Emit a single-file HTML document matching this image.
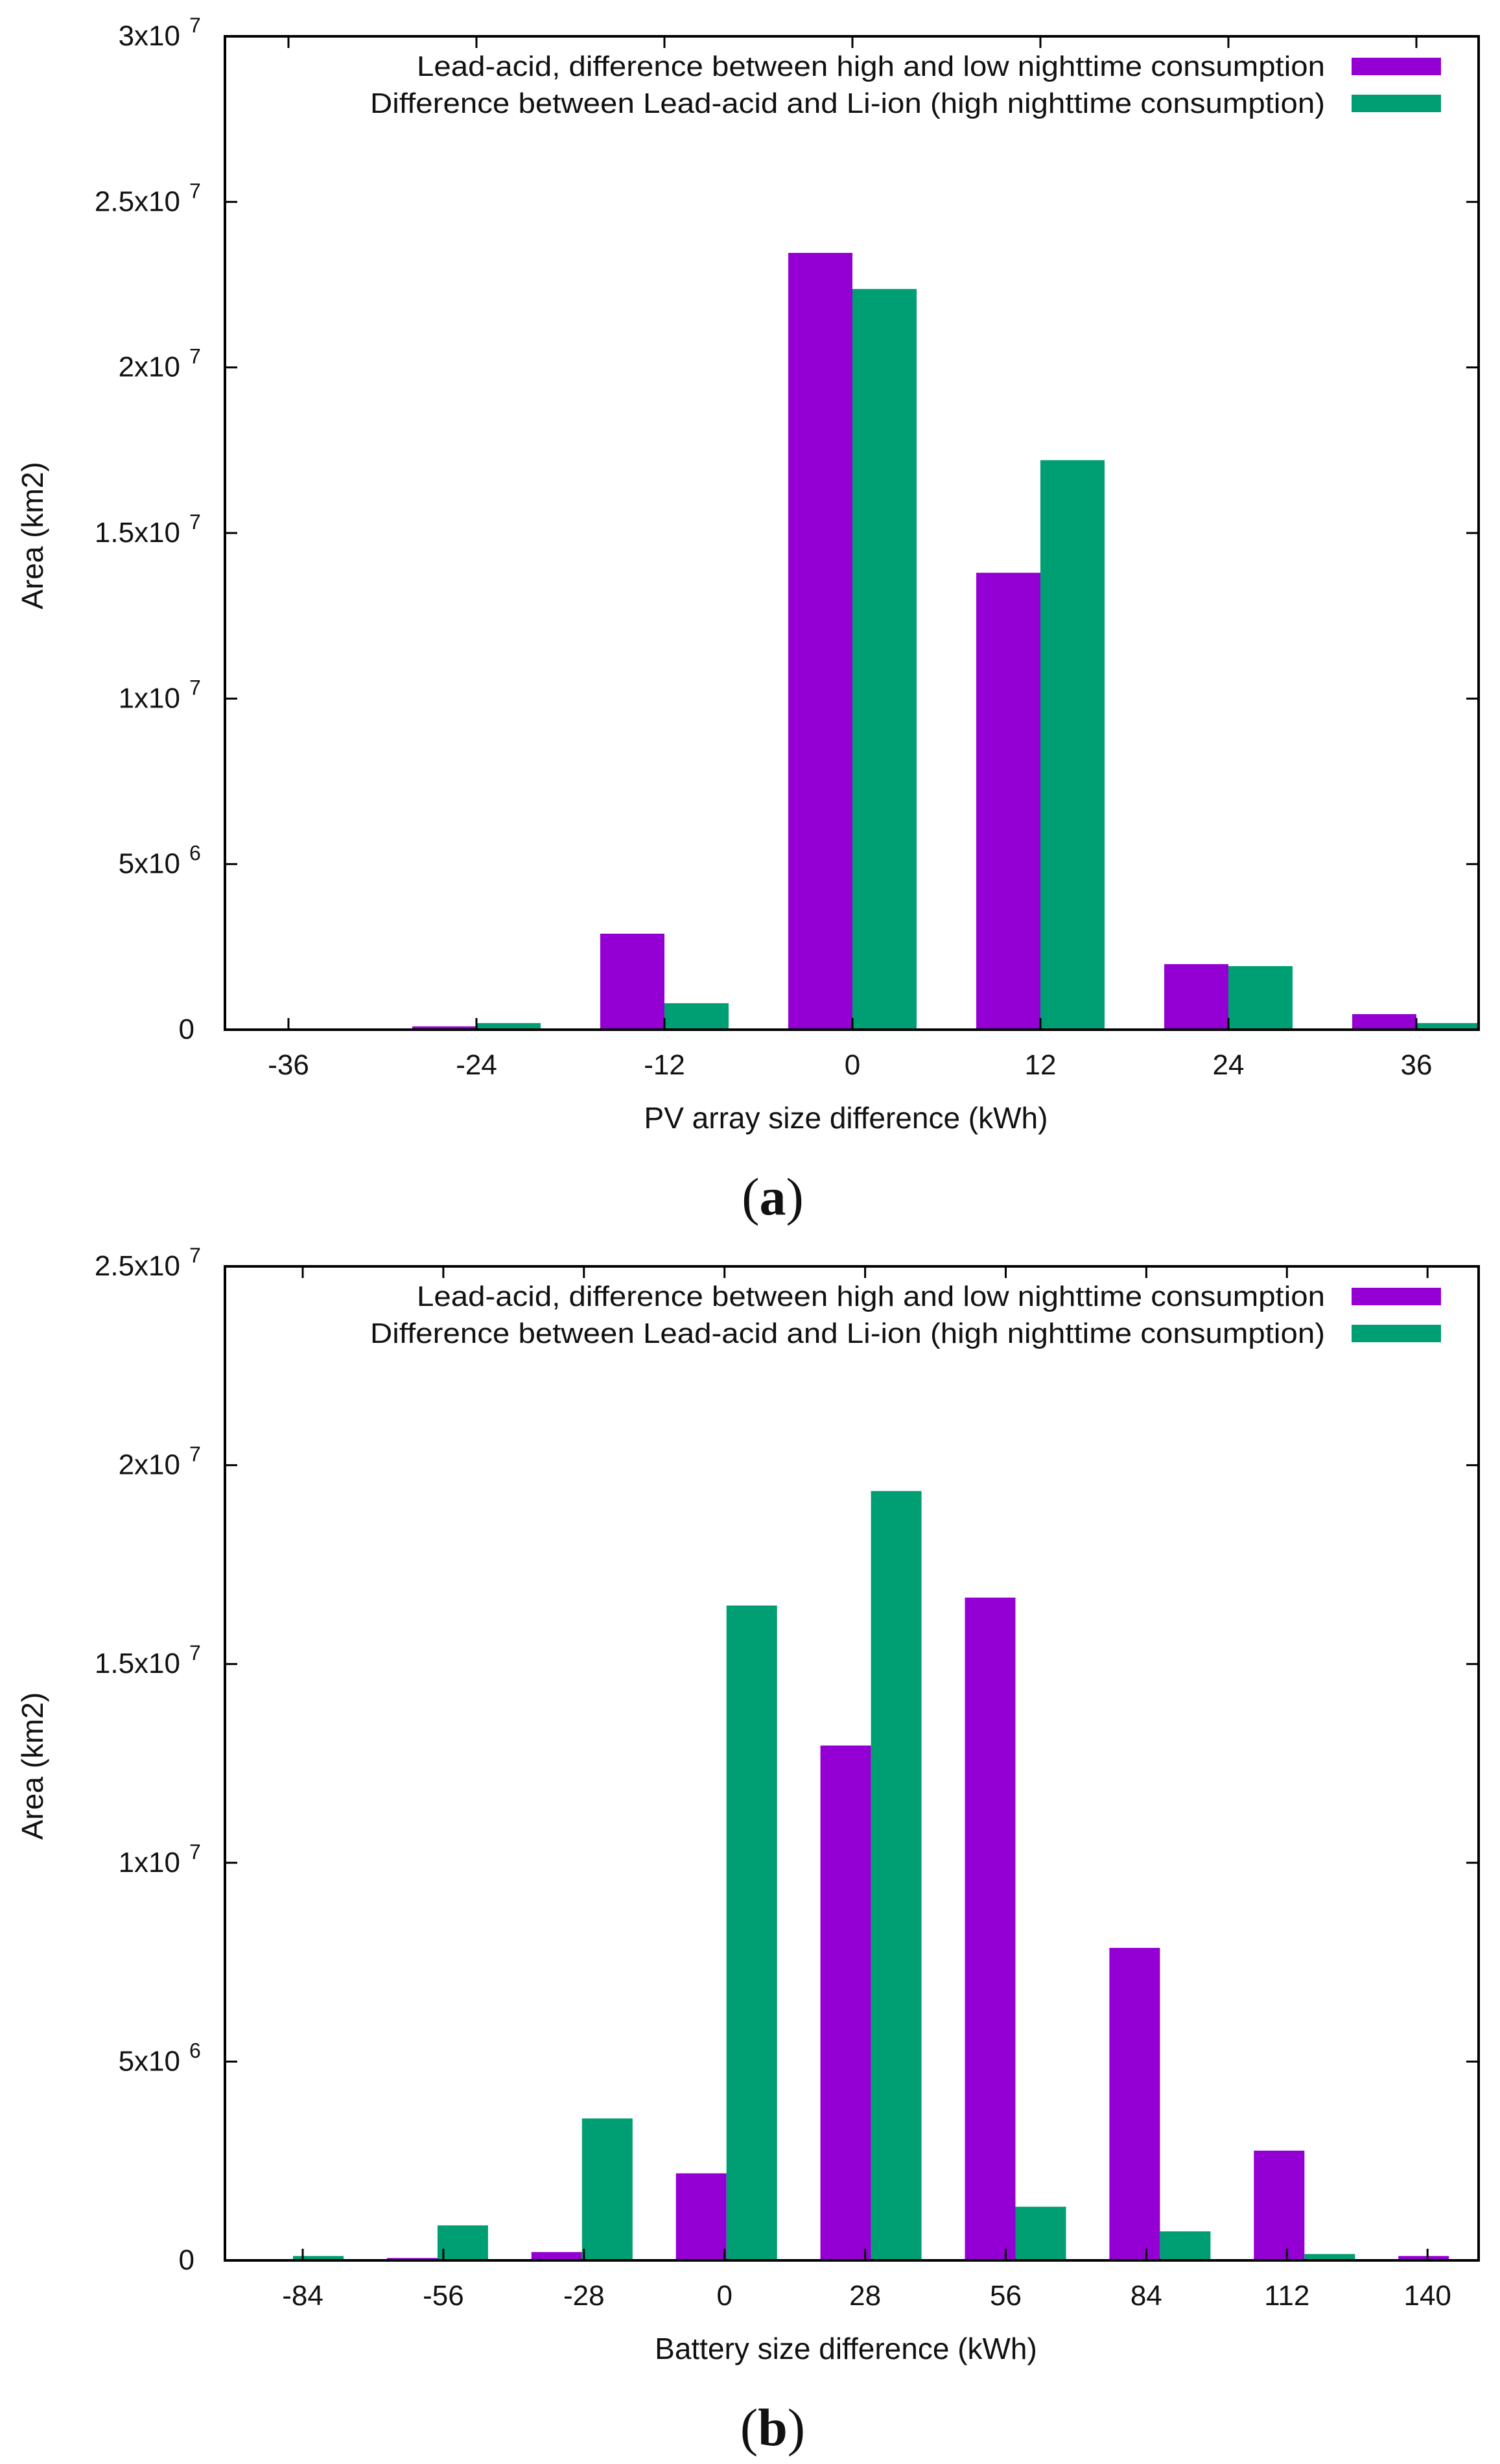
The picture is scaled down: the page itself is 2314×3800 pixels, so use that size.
<!DOCTYPE html>
<html><head><meta charset="utf-8">
<style>
html,body{margin:0;padding:0;background:#fff;}
svg{display:block;}
text{font-family:"Liberation Sans","DejaVu Sans",sans-serif;fill:#111;}
</style></head>
<body>
<svg id="fig" width="2314" height="3800" viewBox="0 0 2314 3800" xmlns="http://www.w3.org/2000/svg"></svg>
<script>
// ---- Chart (a) data ----
const catsA = ["-36","-24","-12","0","12","24","36"];
const leadA = [0, 0.1, 2.9, 23.46, 13.8, 1.98, 0.47];   // x1e6
const diffA = [0, 0.2, 0.8, 22.37, 17.2, 1.92, 0.2];    // x1e6
const yTicksA = [0, 5, 10, 15, 20, 25, 30];              // x1e6
const yTickLabelsA = [["0",""],["5x10","6"],["1x10","7"],["1.5x10","7"],["2x10","7"],["2.5x10","7"],["3x10","7"]];
// ---- Chart (b) data ----
const catsB = ["-84","-56","-28","0","28","56","84","112","140"];
const leadB = [0, 0.06, 0.21, 2.19, 12.95, 16.67, 7.86, 2.76, 0.11];
const diffB = [0.11, 0.88, 3.57, 16.47, 19.35, 1.35, 0.73, 0.16, 0];
const yTicksB = [0, 5, 10, 15, 20, 25];
const yTickLabelsB = [["0",""],["5x10","6"],["1x10","7"],["1.5x10","7"],["2x10","7"],["2.5x10","7"]];

const NS = "http://www.w3.org/2000/svg";
const svg = document.getElementById('fig');
function mk(tag, attrs, parent){ const e=document.createElementNS(NS,tag); for(const k in attrs) e.setAttribute(k,attrs[k]); (parent||svg).appendChild(e); return e; }

function drawChart(cfg){
  const g = mk('g',{});
  
  
  const L=347, R=2281, T=cfg.top, B=cfg.bottom;
  const yMax = cfg.yTicks[cfg.yTicks.length-1];
  const yS = v => B - (v / yMax) * (B - T);
  const barX = i => cfg.bar0 + cfg.barStep * i;
  const tickX = i => cfg.tick0 + cfg.tickStep * i;
  const clip = mk('clipPath',{id:'clip-'+cfg.name}, g);
  mk('rect',{x:L,y:T,width:R-L,height:B-T}, clip);
  const bars = mk('g',{'clip-path':'url(#clip-'+cfg.name+')'}, g);
  cfg.lead.forEach((v,i)=>{
    if(v<=0) return;
    const r = mk('rect',{x:barX(i), y:yS(v), width:cfg.bw, height:B-yS(v), fill:'#9400D3'}, bars);
    
    
  });
  cfg.diff.forEach((v,i)=>{
    if(v<=0) return;
    const r = mk('rect',{x:barX(i)+cfg.bw, y:yS(v), width:cfg.bw, height:B-yS(v), fill:'#009E73'}, bars);
    
    
  });
  cfg.yTicks.forEach((v,i)=>{
    const y=yS(v);
    if(i>0 && i<cfg.yTicks.length-1){
      mk('line',{x1:L,y1:y,x2:L+19,y2:y,stroke:'#000','stroke-width':3}, g);
      mk('line',{x1:R,y1:y,x2:R-19,y2:y,stroke:'#000','stroke-width':3}, g);
    }
    const lab = cfg.yLabels[i];
    const t = mk('text',{x:lab[1]?278:300,y:y+14,'font-size':44,'text-anchor':'end'}, g);
    t.textContent = lab[0];
    
    
    if(lab[1]){
      const s = mk('text',{x:292,y:y-6,'font-size':32}, g);
      s.textContent = lab[1];
      
      
    }
  });
  cfg.cats.forEach((c,i)=>{
    const x=tickX(i);
    mk('line',{x1:x,y1:B,x2:x,y2:B-18,stroke:'#000','stroke-width':3}, g);
    mk('line',{x1:x,y1:T,x2:x,y2:T+18,stroke:'#000','stroke-width':3}, g);
    const t = mk('text',{x:x,y:B+69,'font-size':44,'text-anchor':'middle'}, g);
    t.textContent = c;
    
    
  });
  const fr = mk('rect',{x:L,y:T,width:R-L,height:B-T,fill:'none',stroke:'#000','stroke-width':4}, g);
  
  
  const lg = mk('g',{}, g);
  
  
  const entries = [["Lead-acid, difference between high and low nighttime consumption",'#9400D3',643],
                   ["Difference between Lead-acid and Li-ion (high nighttime consumption)",'#009E73',571]];
  entries.forEach((e,k)=>{
    const cy = T + 46 + k*57;
    const t = mk('text',{x:2044,y:cy+15,'font-size':44,'text-anchor':'end',textLength:2044-e[2],lengthAdjust:'spacingAndGlyphs'}, lg);
    t.textContent = e[0];
    
    
    const sw = mk('rect',{x:2085,y:cy-13,width:138,height:27,fill:e[1]}, lg);
    
    
  });
  const yt = mk('text',{x:0,y:0,'font-size':46,'text-anchor':'middle',transform:'translate(66,'+((T+B)/2+4)+') rotate(-90)'}, g);
  yt.textContent = 'Area (km2)';
  
  
  const xt = mk('text',{x:cfg.xtX,y:B+152,'font-size':46,'text-anchor':'middle'}, g);
  xt.textContent = cfg.xTitle;
  
  
  const cap = mk('text',{x:1192,y:B+285,'font-size':82,'text-anchor':'middle',style:'font-family:"Liberation Serif",serif'}, g);
  cap.innerHTML = '(<tspan font-weight="bold">'+cfg.caption+'</tspan>)';
  
  
}

drawChart({name:'chart-a-pv-array', top:56, bottom:1588, cats:catsA, lead:leadA, diff:diffA,
  yTicks:yTicksA, yLabels:yTickLabelsA, bar0:346, barStep:290, bw:99, tick0:445, tickStep:290,
  xTitle:'PV array size difference (kWh)', xtX:1305, caption:'a'});
drawChart({name:'chart-b-battery', top:1953, bottom:3486, cats:catsB, lead:leadB, diff:diffB,
  yTicks:yTicksB, yLabels:yTickLabelsB, bar0:374, barStep:222.9, bw:78, tick0:467, tickStep:216.9,
  xTitle:'Battery size difference (kWh)', xtX:1305, caption:'b'});
</script>
</body></html>
